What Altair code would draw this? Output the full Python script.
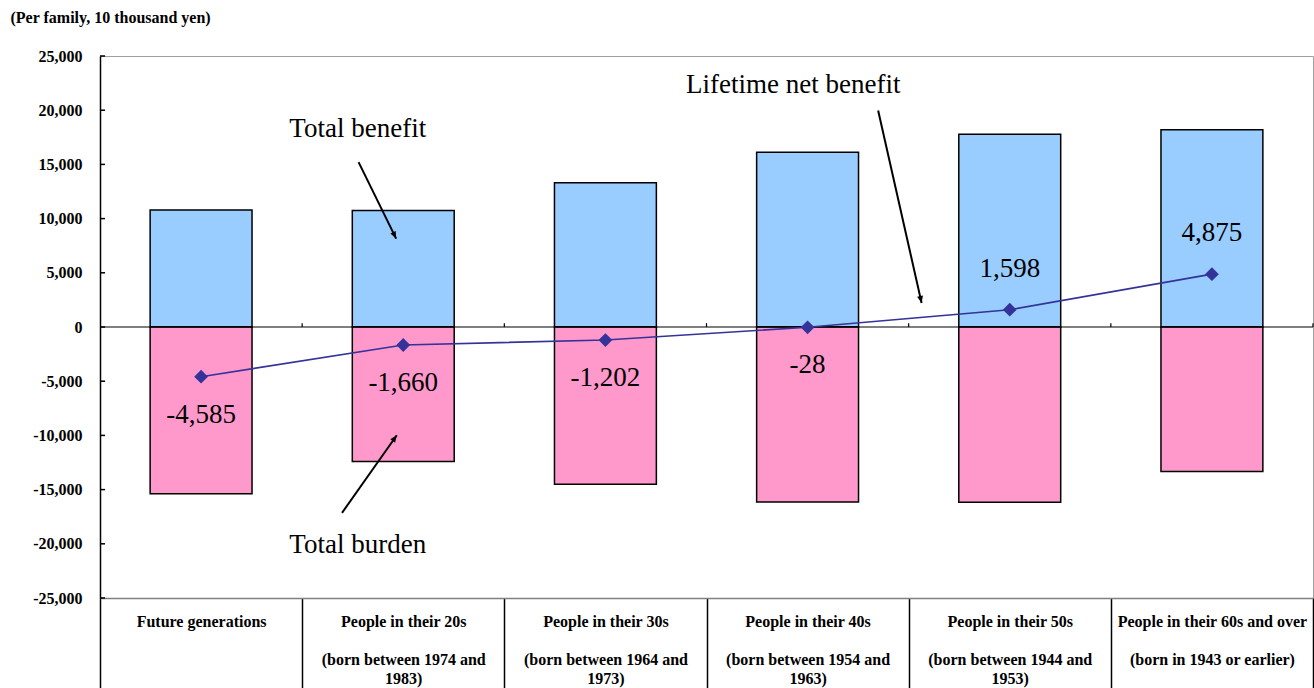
import json
import altair as alt
import pandas as pd

FONT = "Liberation Serif"

# ---------------- data ----------------
categories = [
    "Future generations",
    "People in their 20s",
    "People in their 30s",
    "People in their 40s",
    "People in their 50s",
    "People in their 60s and over",
]
born_line = [
    "",
    "(born between 1974 and",
    "(born between 1964 and",
    "(born between 1954 and",
    "(born between 1944 and",
    "(born in 1943 or earlier)",
]
born_line_cont = ["", "1983)", "1973)", "1963)", "1953)", ""]

total_benefit = [10800, 10740, 13300, 16120, 17770, 18200]
total_burden = [-15385, -12400, -14502, -16148, -16172, -13325]
net_benefit = [-4585, -1660, -1202, -28, 1598, 4875]

y_tick_values = [-25000, -20000, -15000, -10000, -5000, 0, 5000, 10000, 15000, 20000, 25000]

annotation_text = ["Total benefit", "Total burden", "Lifetime net benefit"]
annotation_x = [0.775, 0.775, 2.929]
annotation_y = [18290, -20127, 22285]
arrow_from_x = [0.779, 0.697, 3.349]
arrow_from_y = [15213, -17149, 19980]
arrow_to_x = [0.965, 0.968, 3.564]
arrow_to_y = [8150, -9985, 2213]
arrow_angle = [153.8, 35.3, 167.3]

# ---------------- tables ----------------
BLANK_LINE = "\u200b"
labels = []
for c, b1, b2 in zip(categories, born_line, born_line_cont):
    lines = [c]
    if b1:
        lines += [BLANK_LINE, b1]
    if b2:
        lines.append(b2)
    labels.append(lines)

idx = list(range(len(categories)))
BAR_HALF = 0.252
boundaries = [i - 0.5 for i in range(len(categories) + 1)]

bar_df = pd.DataFrame({
    "x": [i - BAR_HALF for i in idx] * 2,
    "x2": [i + BAR_HALF for i in idx] * 2,
    "y": total_benefit + total_burden,
    "y2": [0] * (2 * len(idx)),
    "kind": ["Total benefit"] * len(idx) + ["Total burden"] * len(idx),
})
net_df = pd.DataFrame({
    "x": idx,
    "y": net_benefit,
    "label": [f"{v:,}" for v in net_benefit],
})
zero_df = pd.DataFrame({"y": [0]})
zero_ticks_df = pd.DataFrame({"x": boundaries[1:], "y": [0] * len(boundaries[1:]), "y2": [350] * len(boundaries[1:])})
y_inner_ticks_df = pd.DataFrame({"x": [-0.5] * len(y_tick_values), "x2": [-0.475] * len(y_tick_values), "y": y_tick_values})
ann_df = pd.DataFrame({"x": annotation_x, "y": annotation_y, "label": annotation_text})
arrow_df = pd.DataFrame({
    "x": arrow_from_x, "y": arrow_from_y,
    "x2": arrow_to_x, "y2": arrow_to_y,
})
head_df = pd.DataFrame({"x": arrow_to_x, "y": arrow_to_y, "angle": arrow_angle})

# ---------------- scales / axes ----------------
xs = alt.Scale(domain=[-0.5, 5.5], nice=False, zero=False)
ys = alt.Scale(domain=[-25000, 25000], nice=False)

label_expr_x = "datum.value % 1 === 0 ? " + json.dumps(labels) + "[datum.value] : ''"

xaxis = alt.Axis(
    values=boundaries + idx,
    labelExpr=label_expr_x,
    title=None,
    grid=False,
    tickSize=95,
    tickColor="black",
    tickWidth=1.5,
    tickOpacity={"condition": {"test": "datum.value % 1 !== 0", "value": 1}, "value": 0},
    labelPadding=-80,
    labelBaseline="top",
    labelFont=FONT,
    labelFontSize=16,
    labelFontWeight="bold",
    labelColor="black",
    labelLineHeight=19,
    labelLimit=0,
    labelOverlap=False,
    labelFlush=False,
    labelBound=False,
    domainColor="#808080",
    domainWidth=1.5,
)
yaxis = alt.Axis(
    values=y_tick_values,
    labelExpr="(datum.value < 0 ? '-' : '') + format(abs(datum.value), ',')",
    ticks=False,
    grid=False,
    labelPadding=18,
    labelFont=FONT,
    labelFontSize=16,
    labelFontWeight="bold",
    labelColor="black",
    domainColor="black",
    domainWidth=1.5,
    title="(Per family, 10 thousand yen)",
    titleAngle=0,
    titleX=-90,
    titleY=-39,
    titleAlign="left",
    titleBaseline="middle",
    titleFont=FONT,
    titleFontSize=16,
    titleFontWeight="bold",
    titleColor="black",
)


def X(f="x"):
    return alt.X(f"{f}:Q", scale=xs, axis=xaxis)


def Y(f="y"):
    return alt.Y(f"{f}:Q", scale=ys, axis=yaxis)


bars = alt.Chart(bar_df).mark_bar(stroke="black", strokeWidth=1.5).encode(
    x=X(), x2="x2:Q", y=Y(), y2="y2:Q",
    color=alt.Color("kind:N", scale=alt.Scale(domain=["Total benefit", "Total burden"],
                                              range=["#99CCFF", "#FF99CC"]), legend=None),
)
zero_line = alt.Chart(zero_df).mark_rule(color="black", strokeWidth=1.2).encode(y=Y())
zero_ticks = alt.Chart(zero_ticks_df).mark_rule(color="black", strokeWidth=1.2).encode(
    x=X(), y=Y(), y2="y2:Q")
y_inner_ticks = alt.Chart(y_inner_ticks_df).mark_rule(color="black", strokeWidth=1.5).encode(
    x=X(), x2="x2:Q", y=Y())

line = alt.Chart(net_df).mark_line(color="#333399", strokeWidth=1.6).encode(x=X(), y=Y())
points = alt.Chart(net_df).mark_point(shape="diamond", filled=True, color="#333399",
                                      size=190, opacity=1).encode(x=X(), y=Y())
labels_pos = alt.Chart(net_df).transform_filter("datum.y >= 0").mark_text(
    font=FONT, fontSize=27, color="black", dy=-41, baseline="middle").encode(
    x=X(), y=Y(), text="label:N")
labels_neg = alt.Chart(net_df).transform_filter("datum.y < 0").mark_text(
    font=FONT, fontSize=27, color="black", dy=38, baseline="middle").encode(
    x=X(), y=Y(), text="label:N")

ann_text = alt.Chart(ann_df).mark_text(font=FONT, fontSize=27, color="black",
                                       baseline="middle", align="center").encode(
    x=X(), y=Y(), text="label:N")
arrows = alt.Chart(arrow_df).mark_rule(color="black", strokeWidth=2).encode(
    x=X(), y=Y(), x2="x2:Q", y2="y2:Q")
heads = alt.Chart(head_df).mark_point(shape="M0,0L-0.42,1L0.42,1Z", filled=True,
                                      color="black", size=200, opacity=1).encode(
    x=X(), y=Y(), angle=alt.Angle("angle:Q", scale=None))

chart = alt.layer(
    bars, zero_line, zero_ticks, y_inner_ticks, line, points,
    labels_pos, labels_neg, ann_text, arrows, heads,
).properties(
    width=1213,
    height=542,
    autosize=alt.AutoSizeParams(type="none"),
    padding={"left": 100, "top": 56, "right": 1, "bottom": 90},
    background="white",
).configure_view(stroke="#a0a0a0", strokeWidth=1)

chart.save("out.html", embed_options={"renderer": "svg", "actions": False})
